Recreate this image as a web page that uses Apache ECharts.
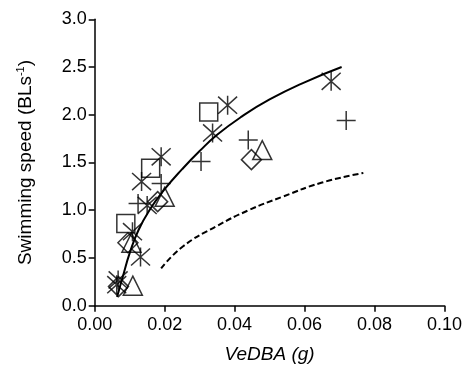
<!DOCTYPE html>
<html>
<head>
<meta charset="utf-8">
<script src="https://cdn.jsdelivr.net/npm/echarts@6/dist/echarts.min.js"></script>
<style>html,body{margin:0;padding:0;background:#fff}#c{width:465px;height:377px}</style>
</head>
<body>
<div id="c"></div>
<script>
var xTicks = [0, 0.02, 0.04, 0.06, 0.08, 0.10];
var yTicks = [0, 0.5, 1.0, 1.5, 2.0, 2.5, 3.0];
var squares = [[0.0089, 0.86], [0.0160, 1.44], [0.0326, 2.03]];
var asterisks = [[0.0380, 2.10], [0.0337, 1.81], [0.0676, 2.35], [0.0190, 1.56], [0.0134, 1.30],
                 [0.0150, 1.05], [0.0108, 0.775], [0.0131, 0.51], [0.0067, 0.27], [0.0063, 0.22]];
var pluses = [[0.0719, 1.94], [0.0439, 1.735], [0.0304, 1.51], [0.0190, 1.28], [0.0124, 1.07]];
var triangles = [[0.0479, 1.63], [0.0200, 1.14], [0.0105, 0.66], [0.0109, 0.21]];
var diamonds = [[0.0448, 1.53], [0.0180, 1.09], [0.0095, 0.66], [0.0068, 0.20]];
var fitSolid = [[0.0064, 0.09], [0.0080, 0.30], [0.0100, 0.55], [0.0125, 0.79],
                [0.0160, 1.02], [0.0200, 1.22], [0.0250, 1.43], [0.0300, 1.62], [0.0350, 1.79],
                [0.0420, 1.98], [0.0500, 2.16], [0.0600, 2.34], [0.0706, 2.50]];
var fitDashed = [[0.0190, 0.39], [0.0252, 0.62], [0.0347, 0.83], [0.0440, 1.00], [0.0536, 1.14],
                 [0.0650, 1.29], [0.0768, 1.39]];

var chart = echarts.init(document.getElementById('c'), null, {renderer: 'canvas'});
var FONT = 'Liberation Sans, Arial, sans-serif';
var mk = {color: 'rgba(0,0,0,0)', borderColor: '#000', borderWidth: 1.5};
function sc(name, data, symbol, size) {
  return {name: name, type: 'scatter', data: data, symbol: symbol, symbolSize: size,
    itemStyle: mk, emphasis: {disabled: true}, silent: true, z: 3};
}
chart.setOption({
  animation: false,
  backgroundColor: '#fff',
  grid: {left: 94.7, right: 18.3, top: 19.3, bottom: 71.3, containLabel: false},
  xAxis: {
    type: 'value', min: 0, max: 0.1, interval: 0.02,
    axisLine: {show: true, lineStyle: {color: '#000', width: 1.5}},
    axisTick: {show: true, length: 6, lineStyle: {color: '#000', width: 1.5}},
    splitLine: {show: false},
    axisLabel: {color: '#000', fontSize: 18, fontFamily: FONT, margin: 10,
      formatter: function (v) { return v.toFixed(2); }},
    name: 'VeDBA (g)', nameLocation: 'middle', nameGap: 40,
    nameTextStyle: {color: '#000', fontSize: 19, fontFamily: FONT, fontStyle: 'italic'}
  },
  yAxis: {
    type: 'value', min: 0, max: 3, interval: 0.5,
    axisLine: {show: true, lineStyle: {color: '#000', width: 1.5}},
    axisTick: {show: true, length: 6, lineStyle: {color: '#000', width: 1.5}},
    splitLine: {show: false},
    axisLabel: {color: '#000', fontSize: 18, fontFamily: FONT, margin: 8,
      formatter: function (v) { return v.toFixed(1); }},
    name: '{a|Swimming speed (BLs}{s|-1}{a|)}', nameLocation: 'middle', nameGap: 58,
    nameTextStyle: {color: '#000', fontFamily: FONT,
      rich: {a: {fontSize: 19, fontFamily: FONT, color: '#000'},
             s: {fontSize: 11, fontFamily: FONT, color: '#000', padding: [0, 0, 10, 0]}}}
  },
  series: [
    {type: 'line', data: fitSolid, smooth: 0.5, showSymbol: false, silent: true,
      lineStyle: {color: '#000', width: 2}, z: 2},
    {type: 'line', data: fitDashed, smooth: 0.5, showSymbol: false, silent: true,
      lineStyle: {color: '#000', width: 2, type: [6, 3]}, z: 2},
    sc('squares', squares, 'rect', 18),
    sc('asterisks', asterisks, 'path://M10,0L10,20M0,1L20,19M20,1L0,19', 19),
    sc('pluses', pluses, 'path://M10,0L10,20M0,10L20,10', 19),
    sc('triangles', triangles, 'triangle', 19),
    sc('diamonds', diamonds, 'diamond', 20)
  ]
});
</script>
</body>
</html>
